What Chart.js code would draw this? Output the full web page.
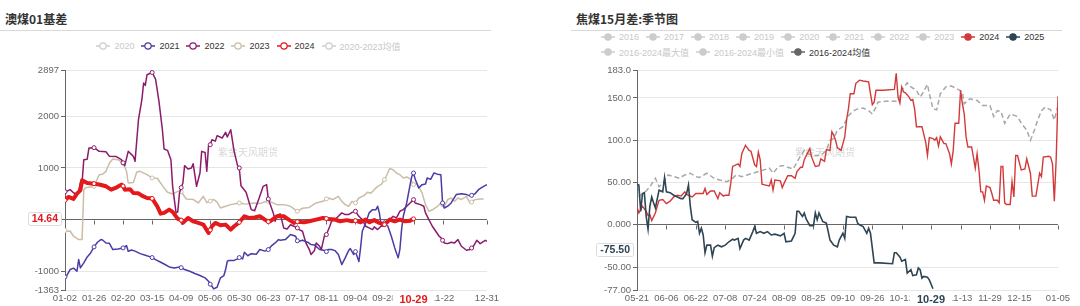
<!DOCTYPE html>
<html>
<head>
<meta charset="utf-8">
<script src="https://cdn.jsdelivr.net/npm/chart.js@4.4.0/dist/chart.umd.min.js"></script>
<style>
  body { margin: 0; width: 1080px; height: 306px; background: #fff; position: relative; overflow: hidden;
         font-family: "Liberation Sans", Arial, "Noto Sans CJK SC", sans-serif; }
  .title { position: absolute; top: 10px; font: bold 12px "Noto Sans CJK SC", sans-serif; color: #333; }
  .rule { position: absolute; top: 30px; height: 1px; background: #d9d9d9; }
  .legend { position: absolute; display: flex; font-size: 9px; }
  .item { display: flex; align-items: center; margin-right: 7px; height: 12px; white-space: nowrap; }
  .item svg { margin-right: 4px; }
  canvas { position: absolute; top: 0; }
</style>
</head>
<body>
<div class="title" style="left:5px">澳煤01基差</div>
<div class="rule" style="left:0;width:491px"></div>
<div class="title" style="left:576px">焦煤15月差:季节图</div>
<div class="rule" style="left:571px;width:491px"></div>
<div class="legend" id="legL" style="left:0;width:504px;top:40px;justify-content:center"></div>
<div class="legend" id="legR1" style="left:601px;top:31px"></div>
<div class="legend" id="legR2" style="left:601px;top:46px"></div>
<canvas id="left" width="540" height="306" style="left:0"></canvas>
<canvas id="right" width="540" height="306" style="left:540px"></canvas>
<script>
// ---- 澳煤01基差 (x = 交易日序号) ----
const leftXTickPos = [0, 17, 34, 51, 68, 85, 102, 119, 136, 153, 170, 187, 204, 221, 247];
const leftXTickLabels = ['01-02', '01-26', '02-20', '03-15', '04-09', '05-06', '05-30', '06-23',
  '07-17', '08-11', '09-04', '09-28', '10-29', '11-22', '12-31'];
const leftYTicks = [-1363, -1000, 0, 1000, 2000, 2897];
const leftYTickLabels = ['-1363', '-1000', '', '1000', '2000', '2897'];

const s2021 = [[0,-1110],[1,-1083],[3,-967],[5,-940],[7,-1000],[8,-774],[9,-935],[11,-838],[13,-722],[15,-645],[17,-529],[19,-438],[21,-387],[22,-395],[24,-452],[26,-460],[28,-580],[31,-568],[34,-548],[36,-503],[37,-613],[39,-590],[41,-610],[44,-658],[47,-690],[50,-722],[51,-735],[53,-774],[56,-826],[58,-860],[61,-916],[64,-935],[67,-916],[68,-930],[70,-967],[73,-1000],[76,-1044],[79,-1083],[82,-1128],[84,-1193],[85,-1250],[86,-1290],[87,-1341],[89,-1310],[91,-1128],[93,-1083],[94,-967],[95,-806],[96,-790],[99,-790],[101,-760],[102,-735],[104,-760],[105,-632],[107,-700],[109,-660],[112,-670],[114,-580],[117,-610],[119,-580],[121,-503],[123,-452],[125,-387],[126,-400],[129,-387],[132,-290],[135,-322],[136,-410],[137,-419],[139,-400],[142,-438],[144,-484],[146,-490],[149,-580],[152,-600],[153,-620],[154,-580],[156,-580],[158,-600],[160,-677],[162,-870],[164,-741],[166,-600],[167,-560],[169,-677],[170,-620],[172,-812],[173,-548],[174,-226],[176,-64],[178,130],[180,193],[182,193],[183,258],[184,130],[185,-97],[186,-129],[187,-64],[189,-129],[191,-322],[193,-548],[195,-741],[196,-580],[197,-193],[198,64],[200,322],[202,677],[203,838],[204,903],[205,780],[207,612],[209,677],[211,690],[212,806],[214,780],[216,903],[218,880],[220,870],[221,322],[222,225],[224,260],[226,322],[229,484],[232,500],[235,484],[237,460],[238,470],[240,500],[242,580],[245,645],[247,677]];
const s2022 = [[0,540],[1,548],[3,580],[5,520],[7,484],[8,560],[9,709],[10,720],[11,1160],[13,1170],[14,1386],[17,1393],[20,1322],[24,1315],[26,1225],[30,1220],[33,1160],[34,1100],[35,1045],[37,1322],[40,1225],[41,1128],[43,1934],[45,2321],[46,2644],[47,2600],[48,2805],[51,2849],[53,2721],[55,2288],[57,1741],[58,1367],[60,1341],[62,1160],[63,644],[65,130],[66,150],[67,516],[68,620],[69,709],[70,1045],[72,980],[74,1000],[75,1083],[77,644],[79,903],[80,1322],[82,1300],[83,935],[84,1431],[85,1450],[86,1547],[88,1520],[89,1625],[92,1580],[94,1689],[95,1600],[97,1741],[99,1322],[101,1045],[102,1000],[103,657],[106,529],[109,193],[111,170],[114,451],[116,644],[118,677],[119,400],[122,116],[123,-32],[124,80],[126,110],[128,-161],[130,-180],[132,-100],[134,-129],[136,-161],[137,-193],[139,-226],[141,-451],[143,-580],[144,-677],[146,-600],[147,-451],[149,-516],[150,-580],[152,-290],[153,-290],[155,-129],[156,-32],[158,0],[160,64],[162,130],[164,97],[166,97],[168,140],[170,161],[172,64],[174,0],[176,-129],[178,-161],[180,-193],[181,-140],[183,-193],[185,-129],[187,-97],[189,-64],[191,32],[192,64],[194,32],[196,161],[198,193],[200,258],[202,322],[204,387],[205,322],[208,290],[210,258],[211,130],[213,0],[215,-129],[217,-226],[219,-322],[220,-350],[221,-400],[222,-451],[224,-465],[226,-438],[228,-451],[230,-387],[232,-516],[235,-593],[237,-580],[238,-550],[239,-516],[241,-400],[243,-465],[246,-400],[247,-420]];
const s2023 = [[0,-210],[1,-226],[3,-220],[5,-322],[8,-387],[10,-387],[11,580],[12,619],[17,645],[20,870],[22,880],[24,935],[26,1096],[28,1173],[31,1160],[34,1096],[36,935],[37,709],[40,720],[42,922],[44,935],[48,870],[51,806],[54,800],[57,658],[60,529],[63,497],[67,560],[68,540],[71,400],[75,390],[78,322],[81,451],[83,330],[85,360],[87,390],[89,340],[91,226],[94,260],[97,290],[102,322],[106,300],[110,322],[114,310],[118,354],[119,354],[120,354],[124,290],[128,290],[132,258],[136,161],[139,220],[143,235],[147,322],[151,354],[153,400],[154,419],[157,390],[160,451],[162,354],[164,290],[166,258],[168,354],[170,322],[172,419],[175,464],[177,529],[179,510],[181,580],[183,644],[185,677],[187,774],[188,838],[190,990],[192,967],[194,903],[196,870],[198,806],[200,825],[202,790],[204,677],[206,700],[208,580],[209,516],[211,290],[213,161],[215,190],[218,258],[220,322],[221,290],[222,258],[224,387],[226,419],[228,354],[230,419],[232,390],[235,451],[237,322],[238,340],[240,387],[243,400],[245,400]];
const s2024 = [[0,374],[2,439],[5,400],[7,503],[9,567],[10,761],[13,709],[17,696],[20,680],[24,645],[27,580],[30,620],[33,677],[34,650],[35,580],[38,590],[40,516],[43,510],[45,464],[48,419],[51,410],[54,258],[56,116],[58,130],[61,193],[63,150],[66,13],[68,-10],[69,-64],[72,32],[75,-32],[78,-64],[81,-97],[84,-258],[85,-200],[86,-129],[88,-64],[91,-110],[94,-97],[97,-193],[99,-129],[102,-52],[105,64],[108,30],[111,40],[114,64],[117,0],[119,-40],[120,-32],[123,40],[124,64],[128,64],[131,0],[134,-64],[136,-40],[140,-52],[143,-32],[147,0],[151,32],[153,20],[154,10],[158,0],[161,-32],[165,-10],[168,-32],[170,-20],[173,-52],[176,0],[178,-52],[181,-10],[184,-64],[187,-97],[190,0],[193,-32],[196,0],[199,-32],[202,-20],[204,14.64]];
const leftLast = { day: 204, date: '10-29', value: 14.64 };

// ---- 焦煤15月差:季节图 (x = 自05-21起的天数) ----
const rightXTickPos = [0, 16, 32, 48, 64, 80, 96, 112, 128, 144, 160, 176, 192, 208, 229];
const rightXTickLabels = ['05-21', '06-06', '06-22', '07-08', '07-24', '08-09', '08-25', '09-10',
  '09-26', '10-12', '10-28', '11-13', '11-29', '12-15', '01-05'];
const rightYTicks = [-77, -50, 0, 50, 100, 150, 183];
const rightYTickLabels = ['-77.00', '-50.00', '0.000', '50.00', '100.0', '150.0', '183.0'];

const r2025 = [[0,48],[1,47],[2,16],[3,37],[4,38],[5,10],[6,-5],[7,22],[8,33],[9,26],[10,20],[12,41],[14,39],[15,56],[16,39],[18,38],[20,35],[22,33],[24,31],[25,31],[27,37],[28,47],[29,22],[30,6],[32,3],[33,4],[34,-10],[35,-4],[36,-12],[37,-33],[38,-24],[40,-24],[41,-37],[42,-27],[44,-24],[46,-26],[48,-24],[50,-20],[52,-17],[53,-18],[55,-16],[56,-28],[58,-18],[59,-16],[61,-18],[63,-8],[64,-2],[65,-10],[67,-8],[69,-10],[71,-8],[73,-12],[75,-11],[78,-13],[80,-10],[81,-20],[84,-19],[86,-10],[87,16],[88,16],[90,10],[91,14],[92,7],[94,-1],[96,-1],[97,14],[98,6],[99,14],[101,4],[103,2],[105,-18],[107,-24],[109,-26],[110,-18],[112,-10],[113,-16],[114,10],[116,9],[119,9],[120,2],[121,0],[123,-2],[125,-10],[126,-4],[127,-10],[129,-45],[132,-45],[139,-46],[140,-33],[141,-33],[143,-38],[144,-43],[146,-41],[147,-57],[149,-53],[150,-60],[152,-59],[153,-51],[154,-53],[155,-63],[156,-61],[158,-62],[159,-65],[161,-75.5]];
const r2024 = [[0,21],[1,14],[2,18],[3,22],[5,16],[6,11],[7,12],[8,5],[10,14],[11,22],[12,29],[14,30],[16,25],[18,28],[20,33],[22,35],[24,34],[26,39],[27,36],[30,33],[32,37],[34,37],[36,37],[37,43],[38,36],[40,40],[42,40],[44,31],[45,38],[47,34],[48,35],[50,35],[51,49],[52,69],[55,72],[56,69],[57,84],[59,94],[61,88],[62,87],[64,71],[65,69],[66,86],[67,77],[68,48],[70,47],[72,46],[73,53],[74,41],[75,53],[78,52],[79,44],[80,49],[82,58],[84,58],[86,55],[87,63],[89,68],[90,68],[91,77],[93,86],[94,90],[95,80],[97,69],[99,70],[100,78],[102,75],[103,89],[105,88],[106,110],[107,106],[108,100],[109,91],[111,88],[113,104],[114,124],[115,137],[116,155],[118,155],[119,167],[121,171],[123,170],[126,169],[127,155],[128,142],[129,145],[130,159],[134,159],[140,160],[141,179],[142,151],[143,144],[144,163],[145,157],[146,156],[148,151],[149,147],[150,148],[151,137],[152,116],[155,116],[157,98],[158,82],[159,103],[161,102],[162,100],[163,103],[164,93],[165,104],[167,96],[168,96],[170,84],[171,72],[172,88],[173,120],[175,120],[176,159],[177,143],[178,131],[179,104],[180,92],[182,92],[183,80],[184,67],[185,84],[186,65],[187,39],[188,39],[189,29],[190,46],[192,44],[193,37],[194,29],[196,29],[197,26],[198,69],[199,69],[200,26],[201,24],[203,24],[204,51],[205,33],[206,82],[207,82],[209,65],[211,66],[212,78],[214,61],[215,34],[217,34],[219,61],[220,57],[221,80],[224,81],[225,80],[226,72],[227,28],[228,77],[229,152]];
const rMean = [[1,33],[3,37],[5,40],[7,45],[10,55],[12,45],[14,49],[17,59],[20,57],[23,55],[26,59],[29,61],[32,57],[34,56],[38,61],[42,55],[45,53],[49,51],[52,55],[54,59],[57,57],[60,59],[63,61],[66,63],[69,65],[72,67],[74,61],[77,69],[80,70],[82,68],[85,66],[88,78],[91,88],[93,84],[96,82],[100,82],[103,88],[105,100],[107,102],[109,112],[112,116],[115,129],[118,135],[120,137],[123,138],[126,135],[128,131],[130,139],[131,145],[135,146],[140,146],[142,146],[144,159],[147,168],[149,163],[152,159],[154,151],[155,154],[158,166],[159,155],[161,137],[163,136],[165,155],[168,163],[171,164],[174,161],[177,157],[178,143],[181,149],[185,147],[188,141],[192,141],[194,128],[196,135],[198,134],[200,120],[203,131],[207,128],[209,120],[212,112],[214,100],[216,111],[218,124],[220,135],[222,139],[225,136],[227,124],[229,141]];
const rightLast = { day: 161, date: '10-29', value: -75.50, labelAt: -29.5 };

// ---- 图例 ----
const legendLeft = [
  { t: '2020', c: '#cccccc', off: true }, { t: '2021', c: '#4a3ba6' }, { t: '2022', c: '#8c1b6c' },
  { t: '2023', c: '#cbbda7' }, { t: '2024', c: '#e3191c' }, { t: '2020-2023均值', c: '#cccccc', off: true }];
const legendRight1 = ['2016', '2017', '2018', '2019', '2020', '2021', '2022', '2023']
  .map(t => ({ t, c: '#cccccc', off: true }))
  .concat([{ t: '2024', c: '#d23a3a' }, { t: '2025', c: '#2f4554' }]);
const legendRight2 = [
  { t: '2016-2024最大值', c: '#cccccc', off: true }, { t: '2016-2024最小值', c: '#cccccc', off: true },
  { t: '2016-2024均值', c: '#666666' }];

function buildLegend(id, items, filled) {
  const el = document.getElementById(id);
  items.forEach(it => {
    const d = document.createElement('div');
    d.className = 'item';
    d.innerHTML = '<svg width="14" height="10"><line x1="0" y1="5" x2="14" y2="5" stroke="' + it.c +
      '" stroke-width="1.5"/><circle cx="7" cy="5" r="3.2" fill="' + (filled ? it.c : '#fff') +
      '" stroke="' + it.c + '" stroke-width="1.2"/></svg><span style="color:' + (it.off ? '#c8c8c8' : '#333') +
      '">' + it.t + '</span>';
    el.appendChild(d);
  });
}
buildLegend('legL', legendLeft, false);
buildLegend('legR1', legendRight1, true);
buildLegend('legR2', legendRight2, true);

const FONT = '"Liberation Sans", Arial, sans-serif';
const toXY = arr => arr.map(p => ({ x: p[0], y: p[1] }));

// 水印、零轴刻度、最新值标签
function decoPlugin(cfg) {
  return {
    id: 'deco',
    beforeDatasetsDraw(chart) {
      const { ctx, scales: { x, y } } = chart;
      ctx.save();
      ctx.font = '10px "Noto Sans CJK SC", sans-serif';
      ctx.fillStyle = 'rgba(0,0,0,0.17)';
      ctx.textAlign = 'center';
      ctx.textBaseline = 'middle';
      ctx.fillText('紫金天风期货', cfg.markX, cfg.markY);
      const y0 = Math.round(y.getPixelForValue(0)) + 0.5;
      ctx.strokeStyle = '#666';
      ctx.lineWidth = 1;
      ctx.beginPath();
      cfg.ticks.forEach(d => {
        const px = Math.round(x.getPixelForValue(d)) + 0.5;
        ctx.moveTo(px, y0);
        ctx.lineTo(px, y0 + 4);
      });
      ctx.stroke();
      ctx.restore();
    },
    afterDraw(chart) {
      const { ctx, chartArea, scales: { x, y } } = chart;
      ctx.save();
      // y 轴上的数值框
      const vy = Math.round(y.getPixelForValue(cfg.boxAt));
      ctx.font = 'bold 10.5px ' + FONT;
      const w = ctx.measureText(cfg.valueText).width + 7;
      const bx = chartArea.left - 4 - w;
      ctx.fillStyle = '#fff';
      ctx.strokeStyle = '#dcdcdc';
      ctx.beginPath();
      ctx.roundRect(Math.round(bx) + 0.5, vy - 6.5, Math.round(w), 13, 2);
      ctx.fill();
      ctx.stroke();
      ctx.fillStyle = cfg.color;
      ctx.textAlign = 'center';
      ctx.textBaseline = 'middle';
      ctx.fillText(cfg.valueText, bx + w / 2 + 0.5, vy + 0.5);
      // x 轴上的日期框
      const dx = x.getPixelForValue(cfg.lastDay) + cfg.dateShift;
      ctx.font = 'bold 11px ' + FONT;
      ctx.fillStyle = '#fff';
      ctx.fillRect(dx - cfg.dateHalf, chartArea.bottom + 2, cfg.dateHalf * 2, 14);
      ctx.fillStyle = cfg.color;
      ctx.fillText(cfg.dateText, dx, chartArea.bottom + 9.5);
      ctx.restore();
    }
  };
}

function yScale(min, max, ticks, labels, width) {
  return {
    type: 'linear', min, max,
    afterBuildTicks: s => { s.ticks = ticks.map(v => ({ value: v })); },
    afterFit: s => { s.width = width; },
    border: { color: '#666' },
    grid: {
      color: c => (c.tick && c.tick.value === 0 ? '#666' : '#e6e6e6'),
      tickColor: '#666', tickLength: 4
    },
    ticks: { color: '#666', padding: 2, font: { size: 9.5, family: FONT }, callback: (v, i) => labels[i] }
  };
}

function xScale(max, ticks, labels) {
  return {
    type: 'linear', min: 0, max,
    afterBuildTicks: s => { s.ticks = ticks.map(v => ({ value: v })); },
    afterFit: s => { s.height = 16; },
    border: { display: false },
    grid: { display: false, drawTicks: false },
    ticks: { color: '#666', padding: 3, autoSkip: false, maxRotation: 0,
      font: { size: 9.5, family: FONT }, callback: (v, i) => labels[i] }
  };
}

const marker = c => (c.raw && c.raw.x % 17 === 0 ? 2 : 0);
function lineSet(data, color, width, order) {
  return { data: toXY(data), borderColor: color, borderWidth: width, pointRadius: marker,
    pointBackgroundColor: '#fff', pointBorderColor: color, pointBorderWidth: 1, pointHoverRadius: 0,
    tension: 0, order, borderJoinStyle: 'round' };
}

new Chart(document.getElementById('left'), {
  type: 'line',
  data: {
    datasets: [
      lineSet(s2024, '#e3191c', 4, 0),
      lineSet(s2021, '#4a3ba6', 1.5, 1),
      lineSet(s2022, '#8c1b6c', 1.5, 2),
      lineSet(s2023, '#cbbda7', 1.5, 3)
    ]
  },
  options: {
    responsive: false, animation: false,
    layout: { padding: { left: 0, top: 70, right: 53, bottom: 0 } },
    scales: {
      x: xScale(247, leftXTickPos, leftXTickLabels),
      y: yScale(-1363, 2897, leftYTicks, leftYTickLabels, 65)
    },
    plugins: { legend: { display: false }, tooltip: { enabled: false } }
  },
  plugins: [decoPlugin({ markX: 248, markY: 152, ticks: leftXTickPos, boxAt: leftLast.value,
    dateHalf: 21, dateShift: 0,
    valueText: leftLast.value.toFixed(2), lastDay: leftLast.day, dateText: leftLast.date, color: '#e3191c' })]
});

new Chart(document.getElementById('right'), {
  type: 'line',
  data: {
    datasets: [
      { data: toXY(r2025), borderColor: '#2f4554', borderWidth: 1.6, pointRadius: 0, tension: 0, order: 0 },
      { data: toXY(r2024), borderColor: '#d23a3a', borderWidth: 1.4, pointRadius: 0, tension: 0, order: 1 },
      { data: toXY(rMean), borderColor: '#a8a8a8', borderWidth: 1.5, borderDash: [5, 3], pointRadius: 0, tension: 0, order: 2 }
    ]
  },
  options: {
    responsive: false, animation: false,
    layout: { padding: { left: 0, top: 70, right: 22, bottom: 0 } },
    scales: {
      x: xScale(229, rightXTickPos, rightXTickLabels),
      y: yScale(-77, 183, rightYTicks, rightYTickLabels, 97)
    },
    plugins: { legend: { display: false }, tooltip: { enabled: false } }
  },
  plugins: [decoPlugin({ markX: 285, markY: 152, ticks: rightXTickPos, boxAt: rightLast.labelAt,
    dateHalf: 21.5, dateShift: -2,
    valueText: rightLast.value.toFixed(2), lastDay: rightLast.day, dateText: rightLast.date, color: '#2f4554' })]
});
</script>
</body>
</html>
